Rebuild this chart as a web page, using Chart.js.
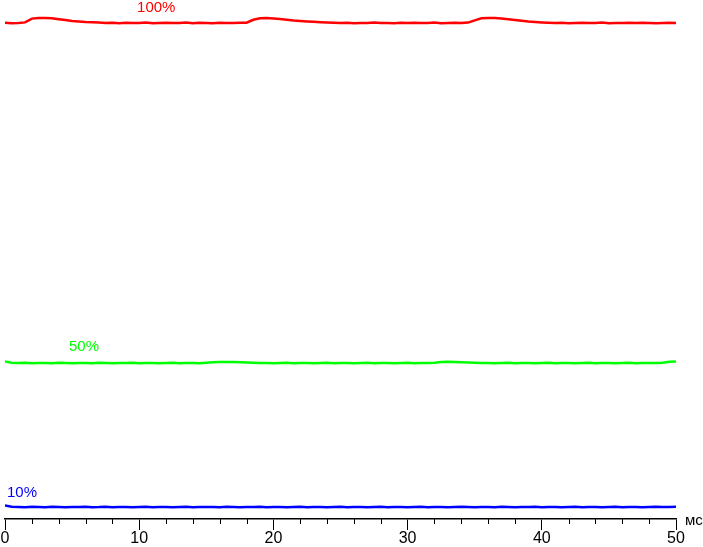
<!DOCTYPE html>
<html>
<head>
<meta charset="utf-8">
<script src="https://cdn.jsdelivr.net/npm/chart.js@4.4.1/dist/chart.umd.min.js"></script>
<style>
  html, body { margin: 0; padding: 0; background: #fff; }
  #wrap { width: 703px; height: 547px; }
</style>
</head>
<body>
<div id="wrap"><canvas id="mychart" width="703" height="547"></canvas></div>
<script>
// time, ms
let times = [0, 0.5, 1, 1.5, 2, 2.5, 3, 3.5, 4, 4.5, 5, 5.5, 6, 6.5, 7, 7.5, 8, 8.5, 9, 9.5,
  10, 10.5, 11, 11.5, 12, 12.5, 13, 13.5, 14, 14.5, 15, 15.5, 16, 16.5, 17, 17.5, 18, 18.5, 19, 19.5,
  20, 20.5, 21, 21.5, 22, 22.5, 23, 23.5, 24, 24.5, 25, 25.5, 26, 26.5, 27, 27.5, 28, 28.5, 29, 29.5,
  30, 30.5, 31, 31.5, 32, 32.5, 33, 33.5, 34, 34.5, 35, 35.5, 36, 36.5, 37, 37.5, 38, 38.5, 39, 39.5,
  40, 40.5, 41, 41.5, 42, 42.5, 43, 43.5, 44, 44.5, 45, 45.5, 46, 46.5, 47, 47.5, 48, 48.5, 49, 49.5, 50];

// brightness, arbitrary units
let red100 = [496.3, 495.8, 496.0, 496.6, 500.4, 501.0, 500.9, 500.8, 499.8, 498.9,
  498.1, 497.5, 497.0, 496.7, 496.4, 496.0, 496.3, 495.8, 496.2, 495.9,
  496.1, 496.4, 495.8, 496.0, 496.3, 495.9, 496.1, 496.4, 495.8, 496.2,
  496.0, 495.7, 496.3, 496.0, 495.9, 496.2, 496.3, 499.2, 500.8, 500.9,
  500.5, 499.9, 499.3, 498.6, 498.1, 497.6, 497.2, 496.8, 496.5, 496.2,
  496.0, 496.3, 495.8, 496.1, 496.0, 496.4, 495.9, 496.1, 495.8, 496.2,
  496.0, 496.3, 495.9, 496.1, 496.4, 495.8, 496.0, 496.2, 495.9, 496.4,
  498.6, 500.7, 501.0, 500.9, 500.5, 499.8, 499.0, 498.2, 497.5, 497.0,
  496.6, 496.3, 496.0, 496.2, 495.8, 496.1, 496.3, 495.9, 496.0, 496.4,
  495.8, 496.1, 496.0, 496.3, 495.9, 496.2, 496.0, 495.8, 496.1, 496.3, 496.0];

let green50 = [157.5, 156.3, 156.0, 156.2, 155.8, 156.1, 156.0, 155.9, 156.2, 156.0,
  155.8, 156.1, 156.0, 155.9, 156.2, 156.0, 155.8, 156.1, 156.0, 156.2,
  155.9, 156.0, 156.1, 155.8, 156.0, 156.2, 155.9, 156.0, 156.1, 155.9,
  156.3, 156.8, 157.0, 157.1, 157.0, 156.8, 156.6, 156.3, 156.0, 156.1,
  155.9, 156.0, 156.2, 155.9, 156.0, 156.1, 155.8, 156.0, 156.2, 155.9,
  156.0, 156.1, 155.9, 156.0, 156.2, 155.8, 156.0, 156.1, 155.9, 156.0,
  156.2, 155.9, 156.0, 156.1, 156.3, 157.0, 157.2, 157.1, 156.9, 156.5,
  156.2, 156.0, 156.1, 155.9, 156.0, 156.2, 155.9, 156.0, 156.1, 155.8,
  156.0, 156.2, 155.9, 156.0, 156.1, 155.9, 156.0, 156.2, 155.9, 156.0,
  156.1, 155.9, 156.0, 156.2, 155.9, 156.0, 156.1, 156.0, 156.3, 157.3, 157.6];

let blue10 = [13.5, 12.3, 12.0, 11.8, 12.2, 12.0, 11.9, 12.3, 12.0, 11.8,
  12.1, 12.0, 12.2, 11.9, 12.0, 12.3, 11.8, 12.0, 12.1, 11.9,
  12.0, 12.2, 11.9, 12.0, 12.1, 11.8, 12.0, 12.2, 11.9, 12.0,
  12.1, 12.0, 11.9, 12.2, 12.0, 11.8, 12.1, 12.0, 12.3, 11.9,
  12.0, 12.1, 11.9, 12.0, 12.2, 11.8, 12.0, 12.1, 11.9, 12.0,
  12.2, 11.9, 12.0, 12.1, 11.8, 12.0, 12.2, 11.9, 12.0, 12.1,
  11.9, 12.0, 12.2, 11.8, 12.0, 12.1, 11.9, 12.0, 12.2, 12.0,
  11.9, 12.1, 12.0, 11.8, 12.2, 12.0, 11.9, 12.1, 12.0, 12.2,
  11.9, 12.0, 12.1, 11.8, 12.0, 12.2, 11.9, 12.0, 12.1, 11.9,
  12.0, 12.2, 11.9, 12.0, 12.1, 11.8, 12.0, 12.2, 12.0, 12.1, 12.3];

let seriesNames = ['100%', '50%', '10%'];
let seriesColors = ['#ff0000', '#00ff00', '#0000ff'];
// where each level name is written: [ms, value]
let namePos = [[9.84, 507], [4.77, 168], [0.15, 22]];
let unitLabel = 'мс';

const FONT = '15px "Liberation Sans", Arial, sans-serif';

function pts(vals) {
  return vals.map((v, i) => ({ x: times[i], y: v }));
}

let extras = {
  id: 'extras',
  afterDraw(chart) {
    let c = chart.ctx;
    let xs = chart.scales.x, ys = chart.scales.y;
    let area = chart.chartArea;
    c.save();
    // minor ticks every 2 ms
    c.strokeStyle = '#000';
    c.lineWidth = 1;
    for (let v = 2; v < 50; v += 2) {
      if (v % 10 === 0) continue;
      let px = Math.round(xs.getPixelForValue(v)) + 0.5;
      c.beginPath();
      c.moveTo(px, area.bottom);
      c.lineTo(px, area.bottom + 5);
      c.stroke();
    }
    c.font = FONT;
    c.textBaseline = 'alphabetic';
    c.textAlign = 'left';
    seriesNames.forEach((n, i) => {
      c.fillStyle = seriesColors[i];
      c.fillText(n, xs.getPixelForValue(namePos[i][0]), ys.getPixelForValue(namePos[i][1]));
    });
    c.fillStyle = '#000';
    c.fillText(unitLabel, area.right + 9, area.bottom + 6);
    c.restore();
  }
};

let mychart = document.getElementById('mychart').getContext('2d');
let obj = new Chart(mychart, {
  type: 'line',
  data: {
    datasets: [red100, green50, blue10].map((d, i) => ({
      label: seriesNames[i],
      data: pts(d),
      borderColor: seriesColors[i],
      borderWidth: 2.5,
      pointRadius: 0,
      tension: 0,
      fill: false
    }))
  },
  options: {
    responsive: false,
    animation: false,
    events: [],
    layout: { padding: { left: 5, right: 27, top: 5, bottom: 0 } },
    plugins: { legend: { display: false }, tooltip: { enabled: false } },
    scales: {
      x: {
        type: 'linear',
        min: 0,
        max: 50,
        border: { display: true, color: '#000', width: 1.5 },
        grid: {
          drawOnChartArea: false,
          tickLength: 11,
          tickColor: ctx => (ctx.tick && ctx.tick.value % 10 === 0) ? '#000' : 'rgba(0,0,0,0)'
        },
        ticks: {
          stepSize: 2,
          autoSkip: false,
          maxRotation: 0,
          padding: 0,
          color: '#000',
          font: { family: '"Liberation Sans", Arial, sans-serif', size: 16, lineHeight: 1.06 },
          callback: v => (v % 10 === 0 ? String(v) : '')
        }
      },
      y: {
        display: false,
        min: 0,
        max: 514
      }
    }
  },
  plugins: [extras]
});
</script>
</body>
</html>
